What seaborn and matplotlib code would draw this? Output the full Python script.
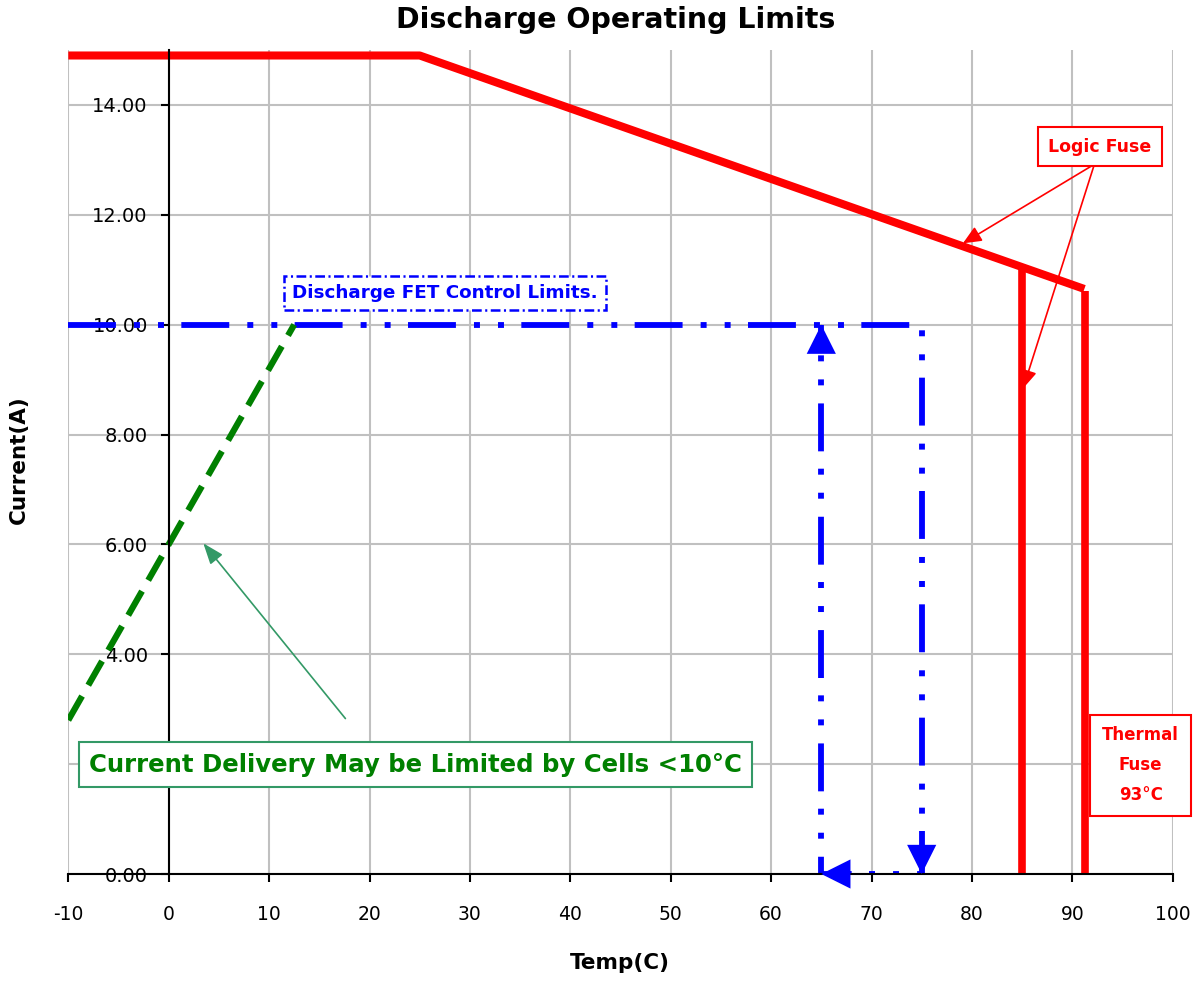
import matplotlib
matplotlib.use("Agg")
import matplotlib.pyplot as plt
import seaborn as sns

# Logic (software) limit curve: flat then derated with temperature
logic_temp = [-10, 25, 91.2]
logic_current = [14.9, 14.9, 10.65]

# Fuse cut-offs (vertical drops to zero)
logic_fuse_temp = [85, 85]
logic_fuse_current = [11.05, 0]
thermal_fuse_temp = [91.25, 91.25]
thermal_fuse_current = [10.62, 0]

# Discharge FET control limit path (flat, then down / back / up)
fet_temp = [-10, 75, 75, 65, 65]
fet_current = [10, 10, 0, 0, 10]

# Cold-cell delivery limit
cell_temp = [-10, 12.5]
cell_current = [2.8, 10.0]

xticks = list(range(-10, 101, 10))
yticks = list(range(0, 15, 2))
hidden_ytick = 2  # covered by the cell-limit callout in the original

sns.set_style("white")
plt.rcParams['font.family'] = ['DejaVu Sans']
plt.rcParams['lines.scale_dashes'] = False
plt.rcParams['axes.unicode_minus'] = False

fig = plt.figure(figsize=(11.99, 9.83), dpi=100)
ax = fig.add_axes([68.3 / 1199, 109 / 983, 1104.4 / 1199, 824 / 983])

# grid
ax.set_xlim(-10, 100)
ax.set_ylim(0, 15.0)
ax.set_xticks(xticks)
ax.set_yticks(yticks)
ax.grid(True, color='#c0c0c0', lw=1.5, zorder=0)
ax.set_axisbelow(True)

# lines
sns.lineplot(x=logic_temp, y=logic_current, ax=ax, color='red', lw=5.8,
             estimator=None, sort=False, solid_capstyle='butt')
sns.lineplot(x=logic_fuse_temp, y=logic_fuse_current, ax=ax, color='red', lw=5.5,
             estimator=None, sort=False, solid_capstyle='butt')
sns.lineplot(x=thermal_fuse_temp, y=thermal_fuse_current, ax=ax, color='red', lw=5.5,
             estimator=None, sort=False, solid_capstyle='butt')
sns.lineplot(x=fet_temp, y=fet_current, ax=ax, color='blue', lw=4.2,
             estimator=None, sort=False,
             linestyle=(0, (34.5, 13, 4.3, 13, 4.3, 12.5)))
sns.lineplot(x=cell_temp, y=cell_current, ax=ax, color='#008000', lw=4.5,
             estimator=None, sort=False, linestyle=(0, (20, 9)))

# blue arrow heads on the FET path
head = dict(arrowstyle='-|>,head_length=1,head_width=0.5', mutation_scale=21,
            color='blue', lw=0, shrinkA=0, shrinkB=0)
ax.annotate('', xy=(65, 10), xytext=(0, -21), textcoords='offset points', arrowprops=head)
ax.annotate('', xy=(75, 0), xytext=(0, 21), textcoords='offset points', arrowprops=head)
ax.annotate('', xy=(65, 0), xytext=(21, 0), textcoords='offset points', arrowprops=head)

# callouts
red_arrow = dict(arrowstyle='-|>,head_length=0.8,head_width=0.35', mutation_scale=14,
                 color='red', lw=1.2, shrinkA=0, shrinkB=0)
ax.annotate('', xy=(79.1, 11.48), xytext=(92.2, 12.92), arrowprops=red_arrow)
ax.annotate('', xy=(85.1, 8.84), xytext=(92.2, 12.92), arrowprops=red_arrow)
ax.text(92.74, 13.24, 'Logic Fuse', color='red', weight='bold', fontsize=12.5,
        ha='center', va='center',
        bbox=dict(boxstyle='square,pad=0.6', fc='white', ec='red', lw=1.5))
ax.text(96.8, 1.98, 'Thermal\nFuse\n93°C', color='red', weight='bold', fontsize=12,
        ha='center', va='center', linespacing=1.85, multialignment='center',
        bbox=dict(boxstyle='square,pad=0.7', fc='white', ec='red', lw=1.5))
ax.text(27.5, 10.58, 'Discharge FET Control Limits.', color='blue', weight='bold',
        fontsize=13.2, ha='center', va='center',
        bbox=dict(boxstyle='square,pad=0.45', fc='white', ec='blue', lw=1.8,
                  ls=(0, (7, 2.5, 1.5, 2.5))))

ax.annotate('', xy=(3.45, 6.02), xytext=(17.6, 2.83),
            arrowprops=dict(arrowstyle='-|>,head_length=0.8,head_width=0.3',
                            mutation_scale=16, color='#339966', lw=1.2,
                            shrinkA=0, shrinkB=0))
ax.text(24.56, 1.99, 'Current Delivery May be Limited by Cells <10°C', color='#008000',
        weight='bold', fontsize=17.6, ha='center', va='center',
        bbox=dict(boxstyle='square,pad=0.42', fc='white', ec='#339966', lw=1.5))

# axes styling
for side in ['top', 'right']:
    ax.spines[side].set_visible(False)
ax.spines['left'].set_position(('data', 0))
ax.spines['left'].set_color('black')
ax.spines['bottom'].set_color('black')
ax.spines['left'].set_linewidth(1.5)
ax.spines['bottom'].set_linewidth(1.5)
ax.tick_params(axis='y', left=True, direction='out', length=6, width=1.5, pad=9,
               labelsize=14, colors='black')
ax.tick_params(axis='x', bottom=True, direction='out', length=6, width=1.5, pad=16,
               labelsize=13.5, colors='black')
ax.yaxis.set_major_formatter(lambda v, pos: '' if v == hidden_ytick else f'{v:.2f}')

fig.text(616 / 1199, 1 - 20 / 983, 'Discharge Operating Limits', ha='center', va='center',
         fontsize=20.5, weight='bold', color='black')
fig.text(620 / 1199, 1 - 963 / 983, 'Temp(C)', ha='center', va='center',
         fontsize=15.5, weight='bold', color='black')
fig.text(19 / 1199, 1 - 460 / 983, 'Current(A)', ha='center', va='center', rotation=90,
         fontsize=15.5, weight='bold', color='black')

fig.savefig('out.png', dpi=100, facecolor='white')
